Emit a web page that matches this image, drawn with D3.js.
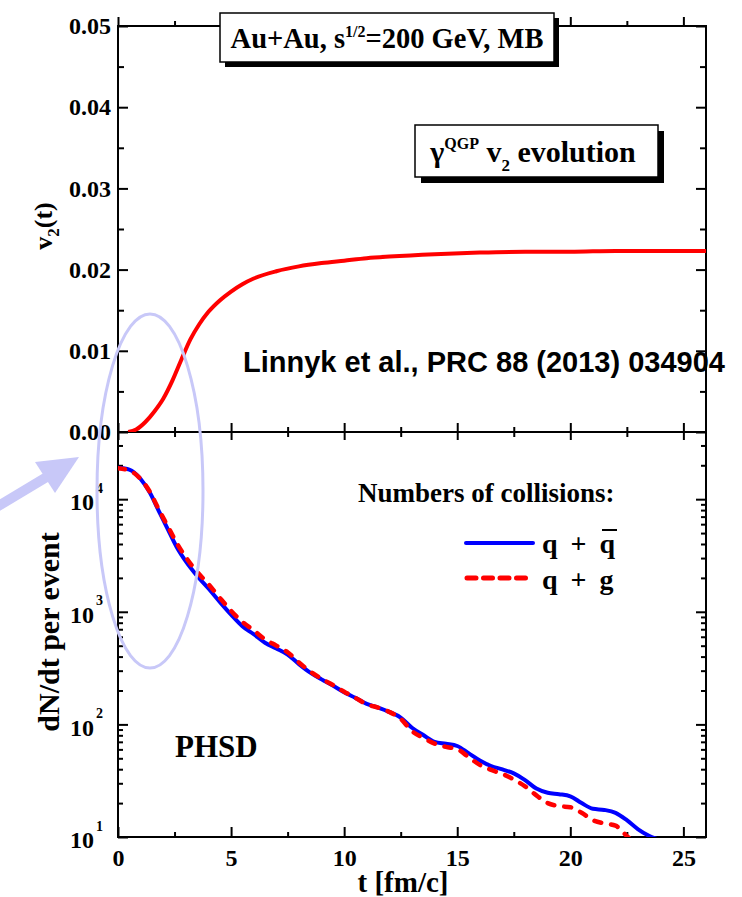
<!DOCTYPE html>
<html><head><meta charset="utf-8">
<script src="https://cdn.jsdelivr.net/npm/d3@7/dist/d3.min.js"></script>
<style>body{margin:0;background:#fff;} svg{display:block;}</style>
</head><body>
<svg id="c" width="742" height="897"></svg>
<script>
// ---- data ----
const tV2 = [0.45,0.8,1.2,1.6,2.0,2.4,2.8,3.2,3.6,4.0,4.5,5,5.5,6,7,8,9,10,11,12,14,16,18,20,22,24,26];
const v2 = [0,0.0003,0.0012,0.0025,0.0041,0.0063,0.0089,0.0114,0.0133,0.0148,0.0162,0.0173,0.0182,0.0189,0.0198,0.0204,0.0208,0.0211,0.0214,0.0216,0.0219,0.0221,0.0222,0.0222,0.0223,0.0223,0.0223];

const tQQ = [0,0.5,1.0,1.4,1.8,2.2,2.6,3.0,3.5,4.0,4.5,5.0,5.5,6.0,6.5,7.0,7.5,8.0,8.5,9.0,9.5,10.0,10.5,11.0,11.5,12.0,12.5,13.0,13.5,14.0,14.5,15.0,15.5,16.0,16.5,17.0,17.5,18.0,18.5,19.0,19.5,20.0,20.5,21.0,21.5,22.0,22.5,23.0,23.5,23.8];
const nQQbar = [19000,18300,15100,11500,7890,5420,3740,2800,2080,1610,1225,944,746,632,531,473,417,343,288,251,221,193,172,152,141,129,115,93.3,80.4,70.0,67.3,64.3,55.6,47.9,42.7,39.8,36.7,32.0,26.9,24.7,24.0,23.0,20.0,17.8,17.4,16.4,14.1,11.7,10.2,9.66];

const tQG = [0,0.5,1.0,1.4,1.8,2.2,2.6,3.0,3.5,4.0,4.5,5.0,5.5,6.0,6.5,7.0,7.5,8.0,8.5,9.0,9.5,10.0,10.5,11.0,11.5,12.0,12.5,13.0,13.5,14.0,14.5,15.0,15.5,16.0,16.5,17.0,17.5,18.0,18.5,19.0,19.5,20.0,20.5,21.0,21.5,22.0,22.5,22.6];
const nQG = [18800,18000,15100,11700,8130,5750,4070,3050,2260,1760,1330,1020,813,684,569,501,437,355,295,254,224,195,172,151,141,129,112,87.1,75.9,67.6,63.1,60.3,51.3,43.7,39.4,36.3,32.4,28.2,23.4,20.0,18.8,18.4,16.4,14.1,13.2,12.6,10.2,9.77];

const xMajor = [0,5,10,15,20,25];
const xMinor = [2.5,7.5,12.5,17.5,22.5];
const v2Major = [0,0.01,0.02,0.03,0.04,0.05];
const v2Minor = [0.005,0.015,0.025,0.035,0.045];
const logMajor = [10,100,1000,10000];
const logExp = ["1","2","3","4"];

// ---- layout ----
const L=118, R=706, T=26, M=432, B=837;
const serif = "'Liberation Serif','Times New Roman',serif";
const sans = "'Liberation Sans',Arial,sans-serif";
const svg = d3.select("#c");

const x = d3.scaleLinear().domain([0,26]).range([L,R]);
const yTop = d3.scaleLinear().domain([0,0.05]).range([M,T]);
const yBot = d3.scaleLog().domain([10,39500]).range([B,M]);

const logMinor = [];
[10,100,1000,10000].forEach(d=>{for(let k=2;k<=9;k++){const v=d*k; if(v<=39500) logMinor.push(v);}});

svg.append("defs").html(
  `<clipPath id="cpT"><rect x="${L}" y="${T}" width="${R-L}" height="${M-T}"/></clipPath>
   <clipPath id="cpB"><rect x="${L}" y="${M}" width="${R-L}" height="${B-M}"/></clipPath>`);

function styleAxis(g){
  g.select(".domain").remove();
  g.selectAll(".tick line").attr("stroke","#000").attr("stroke-width",2);
  g.selectAll(".tick text").attr("fill","#000").style("font-family",serif).style("font-weight","bold").style("font-size","24px");
}
function addAxis(gen, tx, ty){
  const g = svg.append("g").attr("transform",`translate(${tx},${ty})`).call(gen);
  styleAxis(g); return g;
}

// top panel axes
addAxis(d3.axisLeft(yTop).tickValues(v2Major).tickSize(-10).tickPadding(7).tickFormat(d3.format(".2f")), L, 0);
addAxis(d3.axisLeft(yTop).tickValues(v2Minor).tickSize(-6).tickFormat(""), L, 0);
addAxis(d3.axisRight(yTop).tickValues(v2Major).tickSize(-10).tickFormat(""), R, 0);
addAxis(d3.axisRight(yTop).tickValues(v2Minor).tickSize(-6).tickFormat(""), R, 0);
addAxis(d3.axisBottom(x).tickValues(xMajor).tickSize(-9).tickFormat(""), 0, T);
addAxis(d3.axisBottom(x).tickValues(xMinor).tickSize(-5).tickFormat(""), 0, T);
// middle shared axis: ticks both ways
addAxis(d3.axisTop(x).tickValues(xMajor).tickSize(9).tickFormat(""), 0, M);
addAxis(d3.axisTop(x).tickValues(xMinor).tickSize(5).tickFormat(""), 0, M);
addAxis(d3.axisBottom(x).tickValues(xMajor).tickSize(8).tickFormat(""), 0, M);
addAxis(d3.axisBottom(x).tickValues(xMinor).tickSize(5).tickFormat(""), 0, M);
// bottom panel axes
const gl = addAxis(d3.axisLeft(yBot).tickValues(logMajor).tickSize(-10).tickPadding(24).tickFormat(""), L, 0);
gl.selectAll(".tick").each(function(d,i){
  d3.select(this).append("text").attr("fill","#000").attr("x",-24).attr("y",3)
    .attr("dy","0.32em").attr("text-anchor","end")
    .style("font-family",serif).style("font-weight","bold").style("font-size","24px").text("10");
  d3.select(this).append("text").attr("fill","#000").attr("x",-22).attr("y",-7)
    .attr("text-anchor","start").style("font-family",serif).style("font-weight","bold").style("font-size","14px").text(logExp[i]);
});
addAxis(d3.axisLeft(yBot).tickValues(logMinor).tickSize(-5).tickFormat(""), L, 0);
addAxis(d3.axisRight(yBot).tickValues(logMajor).tickSize(-10).tickFormat(""), R, 0);
addAxis(d3.axisRight(yBot).tickValues(logMinor).tickSize(-5).tickFormat(""), R, 0);
addAxis(d3.axisBottom(x).tickValues(xMajor).tickSize(-10).tickPadding(12).tickFormat(d3.format("d")), 0, B);
addAxis(d3.axisBottom(x).tickValues(xMinor).tickSize(-5).tickFormat(""), 0, B);

// frames
svg.append("rect").attr("x",L).attr("y",T).attr("width",R-L).attr("height",M-T).attr("fill","none").attr("stroke","#000").attr("stroke-width",2);
svg.append("rect").attr("x",L).attr("y",M).attr("width",R-L).attr("height",B-M).attr("fill","none").attr("stroke","#000").attr("stroke-width",2);

// curves
const lineTop = d3.line().x((d,i)=>x(tV2[i])).y(d=>yTop(d)).curve(d3.curveMonotoneX);
svg.append("path").attr("clip-path","url(#cpT)").attr("d",lineTop(v2)).attr("fill","none").attr("stroke","#ff0000").attr("stroke-width",4);

const lineQQ = d3.line().x((d,i)=>x(tQQ[i])).y(d=>yBot(d)).curve(d3.curveMonotoneX);
const lineQG = d3.line().x((d,i)=>x(tQG[i])).y(d=>yBot(d)).curve(d3.curveMonotoneX);
svg.append("path").attr("clip-path","url(#cpB)").attr("d",lineQQ(nQQbar)).attr("fill","none").attr("stroke","#0000ff").attr("stroke-width",4);
svg.append("path").attr("clip-path","url(#cpB)").attr("d",lineQG(nQG)).attr("fill","none").attr("stroke","#ff0000").attr("stroke-width",4.5).attr("stroke-dasharray","7,10").attr("stroke-linecap","round");

// axis titles
svg.append("text").attr("transform","translate(52,226) rotate(-90)").attr("text-anchor","middle")
  .style("font-family",serif).style("font-weight","bold").style("font-size","26px")
  .html('v<tspan dy="7" font-size="17">2</tspan><tspan dy="-7">(t)</tspan>');
svg.append("text").attr("transform","translate(59,632) rotate(-90)").attr("text-anchor","middle")
  .style("font-family",serif).style("font-weight","bold").style("font-size","30px").text("dN/dt per event");
svg.append("text").attr("x",403).attr("y",892).attr("text-anchor","middle")
  .style("font-family",serif).style("font-weight","bold").style("font-size","29px").text("t [fm/c]");

// boxes
function box(x0,y0,w,h,off){
  svg.append("rect").attr("x",x0+off).attr("y",y0+off).attr("width",w).attr("height",h).attr("fill","#000");
  svg.append("rect").attr("x",x0).attr("y",y0).attr("width",w).attr("height",h).attr("fill","#fff").attr("stroke","#000").attr("stroke-width",1.5);
}
box(220,13,334,49,5);
svg.append("text").attr("x",387).attr("y",48).attr("text-anchor","middle")
  .style("font-family",serif).style("font-weight","bold").style("font-size","28.5px")
  .html('Au+Au, s<tspan dy="-11" font-size="16">1/2</tspan><tspan dy="11">=200 GeV, MB</tspan>');
box(415,125,243,52,6);
svg.append("text").attr("x",533).attr("y",162).attr("text-anchor","middle")
  .style("font-family",serif).style("font-weight","bold").style("font-size","30px")
  .html('γ<tspan dy="-13" font-size="16">QGP</tspan><tspan dy="13"> v</tspan><tspan dy="9" font-size="17">2</tspan><tspan dy="-9"> evolution</tspan>');

// annotations
svg.append("text").attr("x",243).attr("y",372)
  .style("font-family",sans).style("font-weight","bold").style("font-size","29px").text("Linnyk et al., PRC 88 (2013) 034904");
svg.append("text").attr("x",175).attr("y",757)
  .style("font-family",serif).style("font-weight","bold").style("font-size","31px").text("PHSD");

// legend
svg.append("text").attr("x",358).attr("y",502)
  .style("font-family",serif).style("font-weight","bold").style("font-size","27px").text("Numbers of collisions:");
svg.append("line").attr("x1",466).attr("x2",533).attr("y1",543).attr("y2",543).attr("stroke","#0000ff").attr("stroke-width",4).attr("stroke-linecap","round");
svg.append("line").attr("x1",467).attr("x2",531).attr("y1",578).attr("y2",578).attr("stroke","#ff0000").attr("stroke-width",5).attr("stroke-dasharray","9,7.5").attr("stroke-linecap","round");
const lt1 = svg.append("text").attr("x",542).attr("y",553).style("font-family",serif).style("font-weight","bold").style("font-size","28px");
lt1.append("tspan").text("q");
lt1.append("tspan").attr("dx",13).text("+");
lt1.append("tspan").attr("dx",13).text("q");
svg.append("line").attr("x1",602).attr("x2",617).attr("y1",530).attr("y2",530).attr("stroke","#000").attr("stroke-width",2);
const lt2 = svg.append("text").attr("x",542).attr("y",589).style("font-family",serif).style("font-weight","bold").style("font-size","28px");
lt2.append("tspan").text("q");
lt2.append("tspan").attr("dx",13).text("+");
lt2.append("tspan").attr("dx",13).text("g");

// decorative ellipse and arrow
const lav = "#c8c8f8";
svg.append("ellipse").attr("cx",150).attr("cy",491).attr("rx",53).attr("ry",177).attr("fill","none").attr("stroke",lav).attr("stroke-width",3);
svg.append("line").attr("x1",-5).attr("y1",508).attr("x2",50).attr("y2",475).attr("stroke",lav).attr("stroke-width",10);
svg.append("polygon").attr("points","79,457 35,462 55,493").attr("fill",lav);
</script>
</body></html>
